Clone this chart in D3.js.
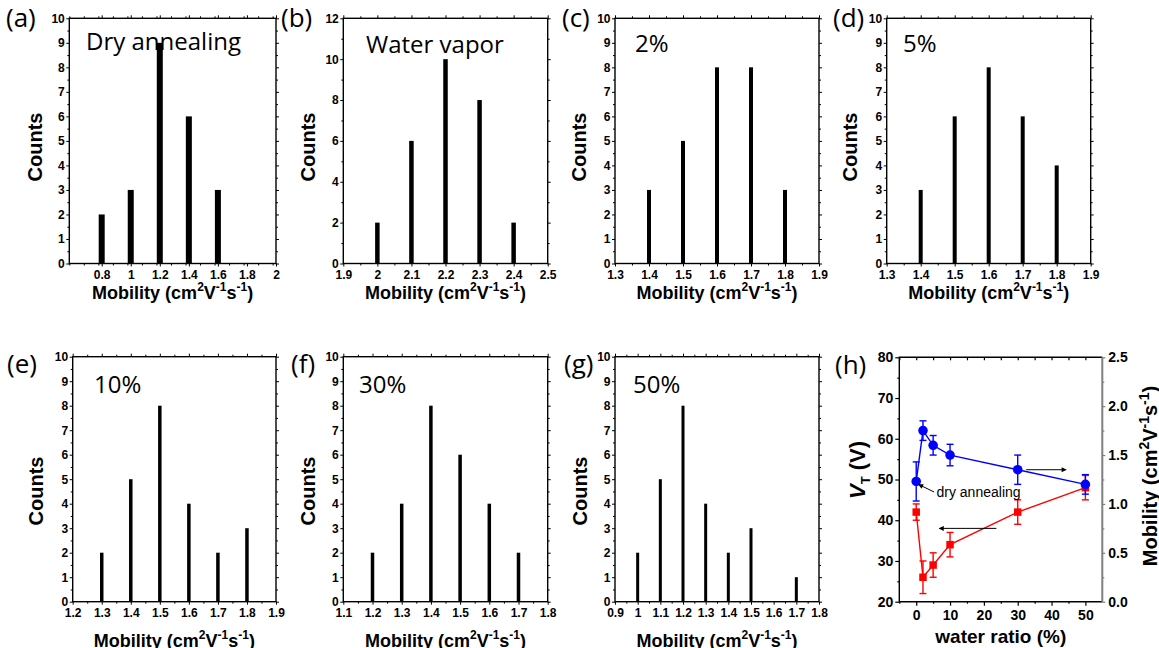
<!DOCTYPE html>
<html>
<head>
<meta charset="utf-8">
<script src="https://cdn.jsdelivr.net/npm/d3@7/dist/d3.min.js"></script>
<style>
  html, body { margin: 0; padding: 0; background: #fff; }
  svg { display: block; }
</style>
</head>
<body>
<svg id="fig" width="1159" height="648"></svg>
<script>
// ---- Mobility histograms: bin centres (cm2/Vs) and counts ----
const binsA = [0.8, 1.0, 1.2, 1.4, 1.6];
const countsA = [2, 3, 9, 6, 3];
const binsB = [2.0, 2.1, 2.2, 2.3, 2.4];
const countsB = [2, 6, 10, 8, 2];
const binsC = [1.4, 1.5, 1.6, 1.7, 1.8];
const countsC = [3, 5, 8, 8, 3];
const binsD = [1.4, 1.5, 1.6, 1.7, 1.8];
const countsD = [3, 6, 8, 6, 4];
const binsE = [1.3, 1.4, 1.5, 1.6, 1.7, 1.8];
const countsE = [2, 5, 8, 4, 2, 3];
const binsF = [1.2, 1.3, 1.4, 1.5, 1.6, 1.7];
const countsF = [2, 4, 8, 6, 4, 2];
const binsG = [1.0, 1.1, 1.2, 1.3, 1.4, 1.5, 1.7];
const countsG = [2, 5, 8, 4, 2, 3, 1];

// ---- Tick labels of the mobility axes ----
const xTicksA = ["0.8", "1", "1.2", "1.4", "1.6", "1.8", "2"];
const xTicksB = ["1.9", "2", "2.1", "2.2", "2.3", "2.4", "2.5"];
const xTicksC = ["1.3", "1.4", "1.5", "1.6", "1.7", "1.8", "1.9"];
const xTicksD = ["1.3", "1.4", "1.5", "1.6", "1.7", "1.8", "1.9"];
const xTicksE = ["1.2", "1.3", "1.4", "1.5", "1.6", "1.7", "1.8", "1.9"];
const xTicksF = ["1.1", "1.2", "1.3", "1.4", "1.5", "1.6", "1.7", "1.8"];
const xTicksG = ["0.9", "1", "1.1", "1.2", "1.3", "1.4", "1.5", "1.6", "1.7", "1.8"];

// ---- Panel (h): threshold voltage and mobility vs water ratio ----
const waterRatio = [0, 2, 5, 10, 30, 50];
const vth = [42, 26, 29, 34, 42, 48];
const vthErr = [2, 4, 3, 3, 3, 3];
const mobility = [1.23, 1.75, 1.60, 1.50, 1.35, 1.20];
const mobilityErr = [0.20, 0.10, 0.10, 0.11, 0.15, 0.10];
const vthTicks = ["20", "30", "40", "50", "60", "70", "80"];
const mobTicks = ["0.0", "0.5", "1.0", "1.5", "2.0", "2.5"];
const ratioTicks = ["0", "10", "20", "30", "40", "50"];

const svg = d3.select("#fig");
const SANS = "'Liberation Sans', Arial, sans-serif";
const NOTE = "'Open Sans', 'Noto Sans', sans-serif";

// Mobility axis title with superscripts, drawn into a text element
function mobilityTitle(text, size) {
  const sup = Math.round(size * 0.68), up = size * 0.42;
  text.append("tspan").text("Mobility (cm");
  text.append("tspan").attr("font-size", sup).attr("dy", -up).text("2");
  text.append("tspan").attr("dy", up).text("V");
  text.append("tspan").attr("font-size", sup).attr("dy", -up).text("-1");
  text.append("tspan").attr("dy", up).text("s");
  text.append("tspan").attr("font-size", sup).attr("dy", -up).text("-1");
  text.append("tspan").attr("dy", up).text(")");
}

function styleAxis(g, width) {
  g.select(".domain").remove();
  g.selectAll("line").attr("stroke", "#000").attr("stroke-width", width);
  g.selectAll("text").attr("font-family", SANS).attr("font-weight", "bold").attr("fill", "#000");
}

function range(a, b, step) {
  const out = [];
  for (let v = a; v <= b + step * 1e-6; v += step) out.push(+v.toFixed(4));
  return out;
}

// One histogram panel
function histogram(p) {
  const g = svg.append("g");
  const x = d3.scaleLinear().domain(p.xDomain).range([p.l, p.r]);
  const y = d3.scaleLinear().domain([0, p.yMax]).range([p.b, p.t]);
  const majorX = p.xTicks.map(Number);
  const minorX = range(p.xDomain[0], p.xDomain[1], p.xMinor)
    .filter(v => !majorX.some(m => Math.abs(m - v) < 1e-6));
  const majorY = range(0, p.yMax, p.yStep);
  const minorY = range(0, p.yMax, p.yStep / 2).filter(v => !majorY.includes(v));

  // bars
  g.append("g").selectAll("rect").data(p.bins.map((b, i) => [b, p.counts[i]]))
    .join("rect")
    .attr("x", d => x(d[0]) - p.barW / 2)
    .attr("width", p.barW)
    .attr("y", d => y(d[1]))
    .attr("height", d => y(0) - y(d[1]))
    .attr("fill", "#000");

  // bottom axis
  const bx = g.append("g").attr("transform", `translate(0,${p.b})`)
    .call(d3.axisBottom(x).tickValues(majorX).tickSize(3).tickPadding(3.5)
      .tickFormat((d, i) => p.xTicks[i]));
  styleAxis(bx, 1);
  bx.selectAll("text").attr("font-size", 12);
  const bxm = g.append("g").attr("transform", `translate(0,${p.b})`)
    .call(d3.axisBottom(x).tickValues(minorX).tickSize(2).tickFormat(""));
  styleAxis(bxm, 1);
  // top mirror
  const tx = g.append("g").attr("transform", `translate(0,${p.t})`)
    .call(d3.axisTop(x).tickValues(majorX).tickSize(3).tickFormat(""));
  styleAxis(tx, 1);
  const txm = g.append("g").attr("transform", `translate(0,${p.t})`)
    .call(d3.axisTop(x).tickValues(minorX).tickSize(2).tickFormat(""));
  styleAxis(txm, 1);

  // left axis
  const ly = g.append("g").attr("transform", `translate(${p.l},0)`)
    .call(d3.axisLeft(y).tickValues(majorY).tickSize(3).tickPadding(1.5)
      .tickFormat(d3.format("d")));
  styleAxis(ly, 1);
  ly.selectAll("text").attr("font-size", 12);
  const lym = g.append("g").attr("transform", `translate(${p.l},0)`)
    .call(d3.axisLeft(y).tickValues(minorY).tickSize(2).tickFormat(""));
  styleAxis(lym, 1);
  // right mirror
  const ry = g.append("g").attr("transform", `translate(${p.r},0)`)
    .call(d3.axisRight(y).tickValues(majorY).tickSize(3).tickFormat(""));
  styleAxis(ry, 1);
  const rym = g.append("g").attr("transform", `translate(${p.r},0)`)
    .call(d3.axisRight(y).tickValues(minorY).tickSize(2).tickFormat(""));
  styleAxis(rym, 1);

  // frame
  g.append("rect").attr("x", p.l).attr("y", p.t)
    .attr("width", p.r - p.l).attr("height", p.b - p.t)
    .attr("fill", "none").attr("stroke", "#000").attr("stroke-width", 1.4);

  // axis titles
  g.append("text")
    .attr("transform", `translate(${p.cx},${p.cy}) rotate(-90)`)
    .attr("text-anchor", "middle")
    .attr("font-family", SANS).attr("font-weight", "bold").attr("font-size", 20)
    .text("Counts");
  const xt = g.append("text")
    .attr("x", (p.l + p.r) / 2).attr("y", p.xTitleY)
    .attr("text-anchor", "middle")
    .attr("font-family", SANS).attr("font-weight", "bold").attr("font-size", 18);
  mobilityTitle(xt, 18);

  // panel letter and condition
  g.append("text").attr("x", p.lx).attr("y", p.ly)
    .attr("font-family", NOTE).attr("font-size", 26).text(p.letter);
  g.append("text").attr("x", p.nx).attr("y", p.ny)
    .attr("font-family", NOTE).attr("font-size", 24).text(p.note);
}

const TOP = { t: 18.3, b: 263.5, xTitleY: 299, cy: 147, ly: 27, ny: 52 };
const BOT = { t: 356.7, b: 601.7, xTitleY: 647, cy: 491, ly: 373, ny: 393 };

histogram({ ...TOP, l: 69.3, r: 276, xDomain: [0.577, 2.0], xMinor: 0.1, xTicks: xTicksA,
  yMax: 10, yStep: 1, bins: binsA, counts: countsA, barW: 6,
  cx: 42, lx: 6, letter: "(a)", nx: 86, ny: 50, note: "Dry annealing" });
histogram({ ...TOP, l: 343.3, r: 547.7, xDomain: [1.9, 2.5], xMinor: 0.05, xTicks: xTicksB,
  yMax: 12, yStep: 2, bins: binsB, counts: countsB, barW: 4.5,
  cx: 315, lx: 281, letter: "(b)", nx: 366, ny: 53, note: "Water vapor" });
histogram({ ...TOP, l: 615, r: 819, xDomain: [1.3, 1.9], xMinor: 0.05, xTicks: xTicksC,
  yMax: 10, yStep: 1, bins: binsC, counts: countsC, barW: 4,
  cx: 586, lx: 562, letter: "(c)", nx: 635, note: "2%" });
histogram({ ...TOP, l: 886.7, r: 1090.7, xDomain: [1.3, 1.9], xMinor: 0.05, xTicks: xTicksD,
  yMax: 10, yStep: 1, bins: binsD, counts: countsD, barW: 4,
  cx: 857, lx: 833, letter: "(d)", nx: 903, note: "5%" });
histogram({ ...BOT, l: 72.7, r: 276, xDomain: [1.2, 1.9], xMinor: 0.05, xTicks: xTicksE,
  yMax: 10, yStep: 1, bins: binsE, counts: countsE, barW: 3.5,
  cx: 43, lx: 7, letter: "(e)", nx: 94, note: "10%" });
histogram({ ...BOT, l: 343.3, r: 547.7, xDomain: [1.1, 1.8], xMinor: 0.05, xTicks: xTicksF,
  yMax: 10, yStep: 1, bins: binsF, counts: countsF, barW: 3.5,
  cx: 315, lx: 291, letter: "(f)", nx: 359, note: "30%" });
histogram({ ...BOT, l: 615, r: 819, xDomain: [0.9, 1.8], xMinor: 0.05, xTicks: xTicksG,
  yMax: 10, yStep: 1, bins: binsG, counts: countsG, barW: 3,
  cx: 587, lx: 564, letter: "(g)", nx: 633, note: "50%" });

// ---- Panel (h) ----
(function () {
  const l = 899.3, r = 1102.3, t = 357.3, b = 601.7;
  const g = svg.append("g");
  const x = d3.scaleLinear().domain([-5, 55]).range([l, r]);
  const yL = d3.scaleLinear().domain([20, 80]).range([b, t]);
  const yR = d3.scaleLinear().domain([0, 2.5]).range([b, t]);

  const bx = g.append("g").attr("transform", `translate(0,${b})`)
    .call(d3.axisBottom(x).tickValues(ratioTicks.map(Number)).tickSize(4).tickPadding(4)
      .tickFormat((d, i) => ratioTicks[i]));
  styleAxis(bx, 1.2);
  bx.selectAll("text").attr("font-size", 14);
  const bxm = g.append("g").attr("transform", `translate(0,${b})`)
    .call(d3.axisBottom(x).tickValues([-5, 5, 15, 25, 35, 45]).tickSize(2).tickFormat(""));
  styleAxis(bxm, 1.2);
  const tx = g.append("g").attr("transform", `translate(0,${t})`)
    .call(d3.axisBottom(x).tickValues(range(-5, 50, 5)).tickSize(3).tickFormat(""));
  styleAxis(tx, 1.2);

  const ly = g.append("g").attr("transform", `translate(${l},0)`)
    .call(d3.axisLeft(yL).tickValues(vthTicks.map(Number)).tickSize(4).tickPadding(2)
      .tickFormat((d, i) => vthTicks[i]));
  styleAxis(ly, 1.2);
  ly.selectAll("text").attr("font-size", 14);
  const lym = g.append("g").attr("transform", `translate(${l},0)`)
    .call(d3.axisLeft(yL).tickValues([25, 35, 45, 55, 65, 75]).tickSize(2).tickFormat(""));
  styleAxis(lym, 1.2);

  const ry = g.append("g").attr("transform", `translate(${r},0)`)
    .call(d3.axisRight(yR).tickValues(mobTicks.map(Number)).tickSize(3).tickPadding(3)
      .tickFormat((d, i) => mobTicks[i]));
  styleAxis(ry, 1.2);
  ry.selectAll("line").attr("stroke", "#7f7f7f");
  ry.selectAll("text").attr("font-size", 14);
  const rym = g.append("g").attr("transform", `translate(${r},0)`)
    .call(d3.axisRight(yR).tickValues([0.25, 0.75, 1.25, 1.75, 2.25]).tickSize(2).tickFormat(""));
  styleAxis(rym, 1.2);
  rym.selectAll("line").attr("stroke", "#7f7f7f");

  // frame: black on three sides, grey right axis
  g.append("path").attr("d", `M${r},${t}H${l}V${b}H${r}`)
    .attr("fill", "none").attr("stroke", "#000").attr("stroke-width", 1.4);
  g.append("line").attr("x1", r).attr("x2", r).attr("y1", t).attr("y2", b)
    .attr("stroke", "#7f7f7f").attr("stroke-width", 2);

  function series(vals, errs, yScale, color, shape) {
    const pts = waterRatio.map((w, i) => ({ w, v: vals[i], e: errs[i] }));
    g.append("path").datum(pts)
      .attr("d", d3.line().x(d => x(d.w)).y(d => yScale(d.v)))
      .attr("fill", "none").attr("stroke", color).attr("stroke-width", 1.4);
    const eb = g.append("g").attr("stroke", color).attr("stroke-width", 1.4);
    pts.forEach(d => {
      const cx = x(d.w), y1 = yScale(d.v - d.e), y2 = yScale(d.v + d.e);
      eb.append("line").attr("x1", cx).attr("x2", cx).attr("y1", y1).attr("y2", y2);
      eb.append("line").attr("x1", cx - 3.5).attr("x2", cx + 3.5).attr("y1", y1).attr("y2", y1);
      eb.append("line").attr("x1", cx - 3.5).attr("x2", cx + 3.5).attr("y1", y2).attr("y2", y2);
    });
    const sym = d3.symbol().type(shape).size(shape === d3.symbolSquare ? 56 : 72);
    g.append("g").selectAll("path").data(pts).join("path")
      .attr("transform", d => `translate(${x(d.w)},${yScale(d.v)})`)
      .attr("d", sym).attr("fill", color);
  }
  series(vth, vthErr, yL, "#ff0000", d3.symbolSquare);
  series(mobility, mobilityErr, yR, "#0000ff", d3.symbolCircle);

  // arrows marking which axis each curve belongs to
  const defs = svg.append("defs");
  defs.append("marker").attr("id", "head").attr("viewBox", "0 0 10 10")
    .attr("refX", 9).attr("refY", 5).attr("markerWidth", 7).attr("markerHeight", 5)
    .attr("markerUnits", "userSpaceOnUse").attr("orient", "auto")
    .append("path").attr("d", "M0,0L10,5L0,10Z").attr("fill", "#000");
  const arrow = (x1, y1, x2, y2) => g.append("line")
    .attr("x1", x1).attr("y1", y1).attr("x2", x2).attr("y2", y2)
    .attr("stroke", "#000").attr("stroke-width", 1).attr("marker-end", "url(#head)");
  arrow(x(32.5), yR(1.35), x(44.3), yR(1.35));
  arrow(x(23.7), yL(38), x(6.8), yL(38));
  arrow(x(5.3), 492, x(0.7), yR(mobility[0]) + 3);

  g.append("text").attr("x", 936.5).attr("y", 496.5)
    .attr("font-family", SANS).attr("font-size", 14).text("dry annealing");

  // titles
  const vt = g.append("text")
    .attr("transform", `translate(865,470) rotate(-90)`)
    .attr("text-anchor", "middle")
    .attr("font-family", SANS).attr("font-weight", "bold").attr("font-size", 22);
  vt.append("tspan").attr("font-style", "italic").text("V");
  vt.append("tspan").attr("font-size", 13).attr("dy", 5).text("T");
  vt.append("tspan").attr("dy", -5).text(" (V)");

  const mt = g.append("text")
    .attr("transform", `translate(1157,476) rotate(-90)`)
    .attr("text-anchor", "middle")
    .attr("font-family", SANS).attr("font-weight", "bold").attr("font-size", 20);
  mobilityTitle(mt, 20);

  g.append("text").attr("x", (l + r) / 2).attr("y", 643)
    .attr("text-anchor", "middle")
    .attr("font-family", SANS).attr("font-weight", "bold").attr("font-size", 19)
    .text("water ratio (%)");

  g.append("text").attr("x", 835).attr("y", 374)
    .attr("font-family", NOTE).attr("font-size", 26).text("(h)");
})();
</script>
</body>
</html>
